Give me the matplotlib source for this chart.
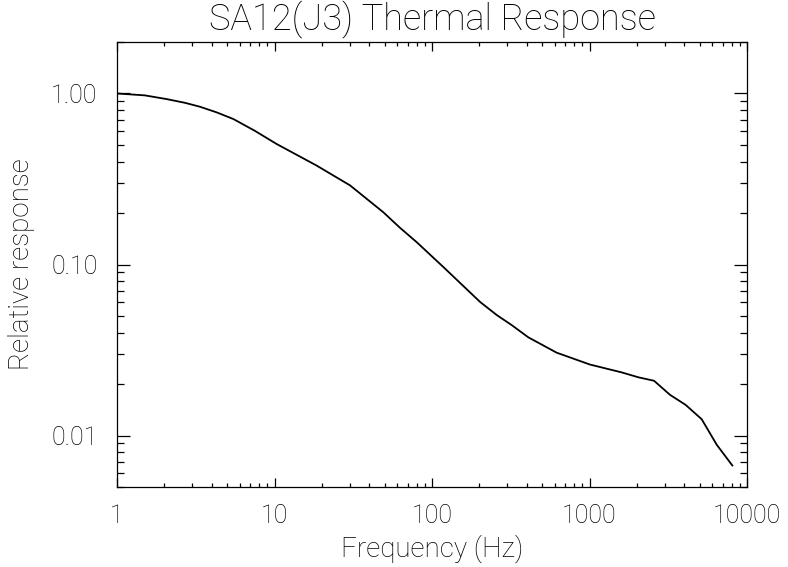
"""Thermal response curve of SA12(J3), log-log.
"""
import numpy as np
import matplotlib.pyplot as plt
from matplotlib.ticker import FixedLocator, LogLocator, NullFormatter

# values
freq = [1.0, 1.5, 2.07, 2.7, 3.37, 4.3, 5.48, 7.5, 10.3, 18.5, 30.2, 49.1,
        62.6, 80.0, 118.0, 202.0, 258.0, 321.0, 409.0, 619.0, 1007.0, 1600.0,
        2042.0, 2570.0, 3243.0, 4080.0, 5157.0, 6425.0, 8070.0]
response = [1.00, 0.975, 0.927, 0.882, 0.836, 0.775, 0.709, 0.605, 0.507,
            0.379, 0.290, 0.202, 0.164, 0.135, 0.0967, 0.0604, 0.0506, 0.0442,
            0.0375, 0.0305, 0.0260, 0.0234, 0.0219, 0.0209, 0.0173, 0.0151,
            0.01245, 0.00883, 0.00668]

x_ticks = [1, 10, 100, 1000, 10000]
x_labels = ['1', '10', '100', '1000', '10000']
y_ticks = [0.01, 0.10, 1.00]
y_labels = ['0.01', '0.10', '1.00']

plt.rcParams['font.family'] = ['Roboto', 'DejaVu Sans']
plt.rcParams['font.weight'] = 'light'
plt.rcParams['axes.titleweight'] = 'light'
plt.rcParams['axes.labelweight'] = 'light'

W, H = 788, 567
fig = plt.figure(figsize=(W / 100, H / 100), dpi=100)
ax = fig.add_axes([117 / W, 1 - 487 / H, (747 - 117) / W, (487 - 42) / H])

ax.plot(freq, response, color='black', lw=1.3)

ax.set_xscale('log')
ax.set_yscale('log')
ax.set_xlim(1, 10000)
ax.set_ylim(0.005, 2.0)

ax.xaxis.set_major_locator(FixedLocator(x_ticks))
ax.set_xticklabels(x_labels)
ax.yaxis.set_major_locator(FixedLocator(y_ticks))
ax.set_yticklabels(y_labels)
ax.xaxis.set_minor_locator(LogLocator(base=10, subs=np.arange(2, 10), numticks=20))
ax.yaxis.set_minor_locator(LogLocator(base=10, subs=np.arange(2, 10), numticks=20))
ax.xaxis.set_minor_formatter(NullFormatter())
ax.yaxis.set_minor_formatter(NullFormatter())

for s in ax.spines.values():
    s.set_linewidth(0.9)

ax.tick_params(axis='both', which='both', direction='in', top=True, right=True,
               width=0.9, labelsize=18, labelcolor='black')
ax.tick_params(axis='x', which='major', length=6.5, pad=12)
ax.tick_params(axis='x', which='minor', length=3.2)
ax.tick_params(axis='y', which='major', length=9.5, pad=14)
ax.tick_params(axis='y', which='minor', length=5)

ax.set_title('SA12(J3) Thermal Response', fontsize=26, pad=9)
ax.set_xlabel('Frequency (Hz)', fontsize=20, labelpad=5)
ax.set_ylabel('Relative response', fontsize=20, labelpad=12)

fig.savefig('out.png', dpi=100)
